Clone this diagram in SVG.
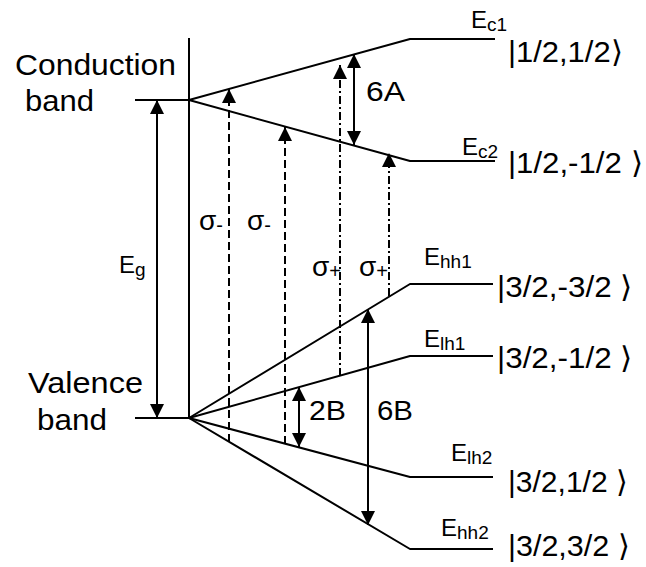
<svg xmlns="http://www.w3.org/2000/svg" width="646" height="567" viewBox="0 0 646 567">
  <style>
    .lvl { fill: none; stroke: #000; stroke-width: 2; stroke-linejoin: round; }
    .arr { fill: none; stroke: #000; stroke-width: 2; }
    .dash { fill: none; stroke: #000; stroke-width: 2; stroke-dasharray: 8 4; }
    .dashdot { fill: none; stroke: #000; stroke-width: 2; stroke-dasharray: 8 3 2 3; }
    text { font-family: "Liberation Sans", Arial, sans-serif; fill: #000; }
    .big { font-size: 29px; }
    .ket { font-size: 30px; }
    .mid { font-size: 28px; }
    .en { font-size: 24px; }
    .sub { font-size: 19px; }
    .sig { font-size: 28px; }
    .ssub { font-size: 20px; }
  </style>
  <defs>
    <marker id="head" markerUnits="userSpaceOnUse" markerWidth="14" markerHeight="14" refX="14" refY="7" orient="auto-start-reverse">
      <path d="M0,0 L14,7 L0,14 z" fill="#000"/>
    </marker>
  </defs>
  <rect width="646" height="567" fill="#fff"/>

  <!-- energy axis -->
  <g id="axis">
    <line class="lvl" x1="189" y1="38" x2="189" y2="418"/>
  </g>

  <!-- unsplit band edges -->
  <g id="conduction-band">
    <line class="lvl" x1="135" y1="100" x2="189" y2="100"/>
    <text class="big" x="15" y="75" textLength="161" lengthAdjust="spacingAndGlyphs">Conduction</text>
    <text class="big" x="25" y="111" textLength="69" lengthAdjust="spacingAndGlyphs">band</text>
  </g>
  <g id="valence-band">
    <line class="lvl" x1="135" y1="418" x2="189" y2="418"/>
    <text class="big" x="28" y="393" textLength="115" lengthAdjust="spacingAndGlyphs">Valence</text>
    <text class="big" x="37" y="430" textLength="70" lengthAdjust="spacingAndGlyphs">band</text>
  </g>

  <!-- split sublevels -->
  <g id="level-ec1">
    <polyline class="lvl" points="189,100 410,39 495,39"/>
    <text class="en" x="471" y="28">E<tspan class="sub" dy="3">c1</tspan></text>
    <text class="ket" x="508" y="62" textLength="115" lengthAdjust="spacingAndGlyphs">|1/2,1/2⟩</text>
  </g>
  <g id="level-ec2">
    <polyline class="lvl" points="189,100 410,161 495,161"/>
    <text class="en" x="462" y="155">E<tspan class="sub" dy="3">c2</tspan></text>
    <text class="ket" x="508" y="173" textLength="135" lengthAdjust="spacingAndGlyphs">|1/2,-1/2 ⟩</text>
  </g>
  <g id="level-ehh1">
    <polyline class="lvl" points="189,418 410,284 493,284"/>
    <text class="en" x="424" y="265">E<tspan class="sub" dy="3">hh1</tspan></text>
    <text class="ket" x="497" y="297" textLength="136" lengthAdjust="spacingAndGlyphs">|3/2,-3/2 ⟩</text>
  </g>
  <g id="level-elh1">
    <polyline class="lvl" points="189,418 410,356 493,356"/>
    <text class="en" x="424" y="347">E<tspan class="sub" dy="3">lh1</tspan></text>
    <text class="ket" x="497" y="368" textLength="136" lengthAdjust="spacingAndGlyphs">|3/2,-1/2 ⟩</text>
  </g>
  <g id="level-elh2">
    <polyline class="lvl" points="189,418 410,477 493,477"/>
    <text class="en" x="451" y="461">E<tspan class="sub" dy="3">lh2</tspan></text>
    <text class="ket" x="508" y="492" textLength="120" lengthAdjust="spacingAndGlyphs">|3/2,1/2 ⟩</text>
  </g>
  <g id="level-ehh2">
    <polyline class="lvl" points="189,418 410,549 493,549"/>
    <text class="en" x="441" y="536">E<tspan class="sub" dy="3">hh2</tspan></text>
    <text class="ket" x="508" y="556" textLength="122" lengthAdjust="spacingAndGlyphs">|3/2,3/2 ⟩</text>
  </g>

  <!-- gaps, splittings and optical transitions -->
  <g id="connectors">
    <line class="arr" x1="157" y1="100" x2="157" y2="418" marker-start="url(#head)" marker-end="url(#head)"/>
    <line class="arr" x1="354" y1="54" x2="354" y2="145" marker-start="url(#head)" marker-end="url(#head)"/>
    <line class="arr" x1="299" y1="387" x2="299" y2="447" marker-start="url(#head)" marker-end="url(#head)"/>
    <line class="arr" x1="368" y1="309" x2="368" y2="525" marker-start="url(#head)" marker-end="url(#head)"/>

    <line class="dash" x1="229" y1="442" x2="229" y2="89" marker-end="url(#head)"/>
    <line class="dash" x1="285" y1="444" x2="285" y2="127" marker-end="url(#head)"/>
    <line class="dashdot" x1="340" y1="376" x2="340" y2="65" marker-end="url(#head)"/>
    <line class="dashdot" x1="389" y1="296" x2="389" y2="153" marker-end="url(#head)"/>
  </g>

  <g id="labels">
    <text class="en" x="119" y="273">E<tspan class="sub" dy="3">g</tspan></text>
    <text class="mid" x="366" y="101" textLength="39" lengthAdjust="spacingAndGlyphs">6A</text>
    <text class="mid" x="309" y="420" textLength="37" lengthAdjust="spacingAndGlyphs">2B</text>
    <text class="mid" x="377" y="420" textLength="36" lengthAdjust="spacingAndGlyphs">6B</text>
    <text class="sig" x="199" y="230">σ<tspan class="ssub" dy="2">-</tspan></text>
    <text class="sig" x="247" y="230">σ<tspan class="ssub" dy="2">-</tspan></text>
    <text class="sig" x="312" y="276">σ<tspan class="ssub" dy="2">+</tspan></text>
    <text class="sig" x="359" y="276">σ<tspan class="ssub" dy="2">+</tspan></text>
  </g>
</svg>
